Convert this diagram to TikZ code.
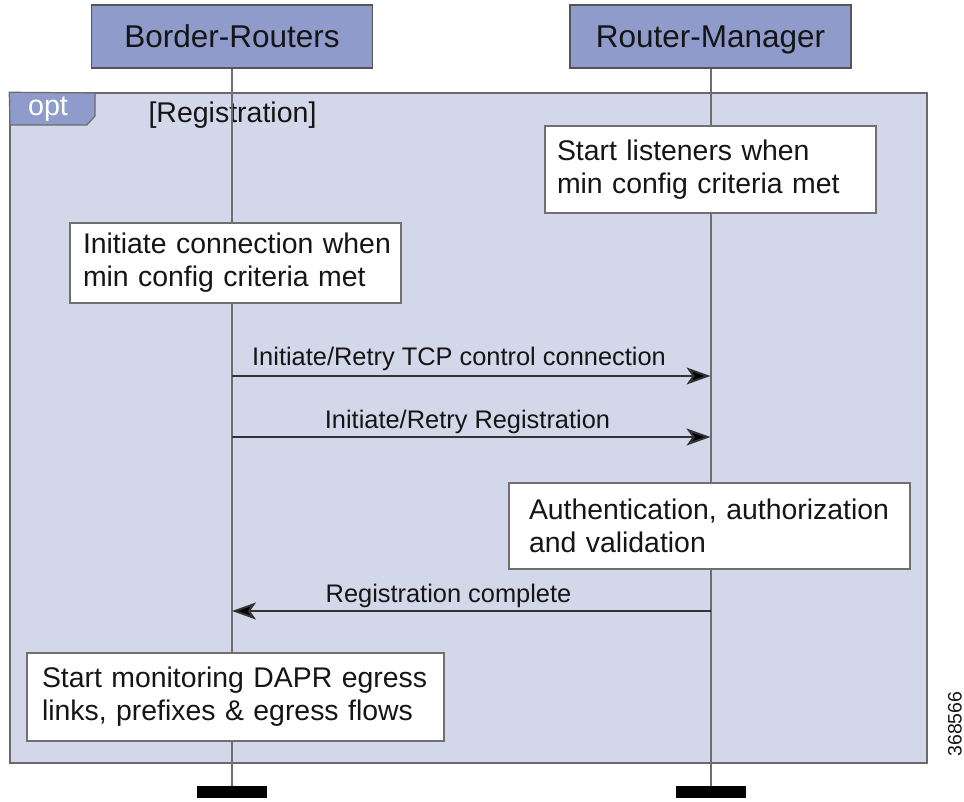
\documentclass[tikz,border=0pt]{standalone}
\usepackage{fontspec}
\setmainfont{Liberation Sans}
\usetikzlibrary{arrows.meta,calc}
\definecolor{hdrfill}{HTML}{8F9BCB}
\definecolor{hdrborder}{HTML}{555555}
\definecolor{framefill}{HTML}{D3D7EA}
\definecolor{framebord}{HTML}{6A6A6A}
\definecolor{linegray}{HTML}{6E6E6E}
\definecolor{msgline}{HTML}{333333}
\definecolor{boxborder}{HTML}{707070}
\definecolor{txt}{HTML}{151515}
\begin{document}
\begin{tikzpicture}[x=1pt,y=-1pt,
  header/.style={draw=hdrborder, line width=1.5pt, fill=hdrfill, minimum width=281pt, minimum height=63pt, inner sep=0pt, text height=22.5pt, text depth=0pt, font=\fontsize{31.5}{36}\selectfont, text=txt},
  optframe/.style={draw=framebord, line width=1.5pt, fill=framefill, minimum width=917pt, minimum height=670pt, inner sep=0pt},
  notebox/.style={draw=boxborder, line width=1.5pt, fill=white, align=left, inner ysep=0pt, font=\fontsize{28.4}{33}\selectfont, text=txt},
  lifeline/.style={draw=linegray, line width=2pt},
  endbar/.style={fill=black, minimum width=70pt, minimum height=12pt, inner sep=0pt},
  msg/.style={draw=msgline, line width=2pt, -{Stealth[length=24pt,width=17pt,inset=6pt,fill=black]}},
  msglabel/.style={font=\fontsize{25.4}{30}\selectfont, text=txt, inner sep=0pt, anchor=base},
  ]
\useasboundingbox (0,0) rectangle (964,802);
% opt frame
\node[optframe] (frame) at (468.5,428) {};
\draw[draw=framebord, line width=1.2pt, fill=hdrfill] (frame.north west) -- (95,93) -- (95,116) -- (87,125) -- (10,125) -- cycle;
\node[text=white, font=\fontsize{28.7}{33}\selectfont, inner sep=0pt, anchor=base] (opttag) at (48,116) {opt};
\node[msglabel, font=\fontsize{28.5}{33}\selectfont] (guard) at (232.5,123) {[Registration]};
% end bars
\node[endbar] (brend) at (232,792) {};
\node[endbar] (rmend) at (710.5,792) {};
% lifelines (drawn from header centre, header drawn on top)
\coordinate (brtop) at (232,36.5);
\coordinate (rmtop) at (710.5,36.5);
\draw[lifeline] (brtop) -- (brend.north);
\draw[lifeline] (rmtop) -- (rmend.north);
% headers
\node[header] (br) at (232,36.5) {Border-Routers};
\node[header] (rm) at (710.5,36.5) {Router-Manager};
% notes
\node[notebox, text width=307pt, inner xsep=12pt, minimum height=87pt] (listen) at (710.5,169.5) {\mbox{Start listeners when}\\\mbox{min config criteria met}};
\node[notebox, text width=305pt, inner xsep=13pt, minimum height=80pt] (init) at (235.5,263) {\mbox{Initiate connection when}\\\mbox{min config criteria met}};
\node[notebox, text width=361pt, inner xsep=20pt, minimum height=86pt] (auth) at (709.5,526) {\mbox{Authentication, authorization}\\\mbox{and validation}};
\node[notebox, text width=387pt, inner xsep=15pt, minimum height=88pt] (mon) at (235.5,697) {\mbox{Start monitoring DAPR egress}\\\mbox{links, prefixes \& egress flows}};
% messages
\coordinate (b1) at (232,376);
\coordinate (r1) at (710.5,376);
\coordinate (b2) at (232,437);
\coordinate (r2) at (710.5,437);
\coordinate (b3) at (232,611);
\coordinate (r3) at (710.5,611);
\draw[msg] (b1) -- (r1);
\node[msglabel] (l1) at (459,365) {Initiate/Retry TCP control connection};
\draw[msg] (b2) -- (r2);
\node[msglabel] (l2) at (467.5,428) {Initiate/Retry Registration};
\draw[msg] (r3) -- (b3);
\node[msglabel] (l3) at (448.5,602.5) {Registration complete};
% figure number
\node[rotate=90, font=\fontsize{19.5}{22}\selectfont, text=txt, inner sep=0pt] (fignum) at (955,724) {368566};
\end{tikzpicture}
\end{document}
